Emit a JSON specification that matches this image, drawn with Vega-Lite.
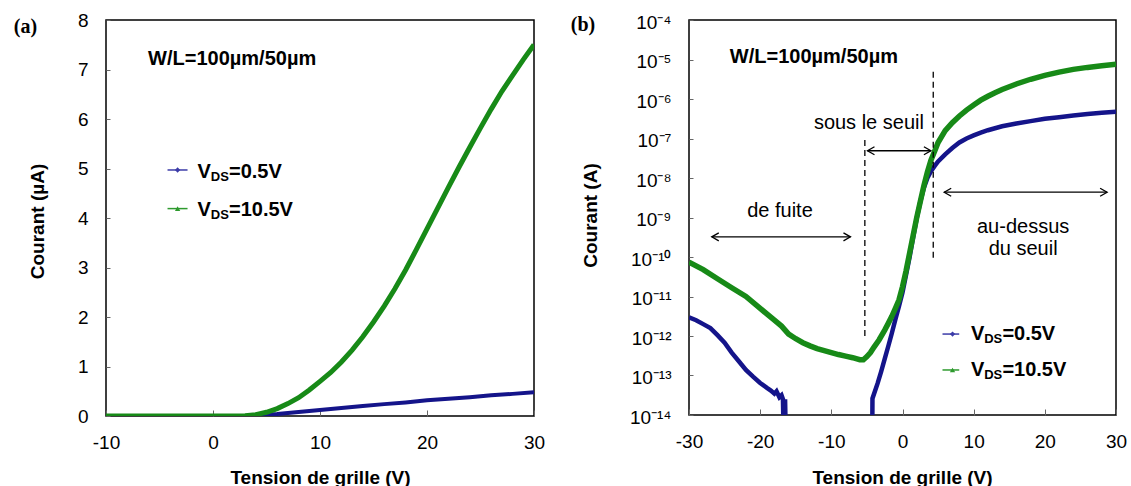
{
  "$schema": "https://vega.github.io/schema/vega-lite/v6.json",
  "background": "white",
  "padding": {"left": 13, "top": 10, "right": 0, "bottom": 0},
  "spacing": 155,
  "bounds": "flush",
  "config": {
    "font": "Liberation Sans",
    "view": {"stroke": "black", "strokeWidth": 1.5},
    "axis": {
      "grid": false, "domain": false, "tickColor": "#666", "tickWidth": 1,
      "labelFont": "Liberation Sans", "labelFontSize": 19, "labelColor": "black",
      "titleFont": "Liberation Sans", "titleFontSize": 19, "titleFontWeight": "bold", "titleColor": "black",
      "labelOverlap": false
    }
  },
  "datasets": {
    "a_blue": [
      {"s": "0.5", "vg": -10, "i": 0}, {"s": "0.5", "vg": -5, "i": 0}, {"s": "0.5", "vg": 0, "i": 0},
      {"s": "0.5", "vg": 3, "i": 0.002}, {"s": "0.5", "vg": 4, "i": 0.015}, {"s": "0.5", "vg": 5, "i": 0.026},
      {"s": "0.5", "vg": 6, "i": 0.04}, {"s": "0.5", "vg": 8, "i": 0.08}, {"s": "0.5", "vg": 10, "i": 0.12},
      {"s": "0.5", "vg": 12, "i": 0.16}, {"s": "0.5", "vg": 14, "i": 0.2}, {"s": "0.5", "vg": 16, "i": 0.24},
      {"s": "0.5", "vg": 18, "i": 0.275}, {"s": "0.5", "vg": 20, "i": 0.316}, {"s": "0.5", "vg": 22, "i": 0.347},
      {"s": "0.5", "vg": 24, "i": 0.38}, {"s": "0.5", "vg": 26, "i": 0.417}, {"s": "0.5", "vg": 28, "i": 0.447},
      {"s": "0.5", "vg": 30, "i": 0.479}
    ],
    "a_green": [
      {"s": "10.5", "vg": -10, "i": 0}, {"s": "10.5", "vg": -5, "i": 0}, {"s": "10.5", "vg": 0, "i": 0},
      {"s": "10.5", "vg": 2, "i": 0.001}, {"s": "10.5", "vg": 3, "i": 0.006}, {"s": "10.5", "vg": 4, "i": 0.028},
      {"s": "10.5", "vg": 5, "i": 0.075}, {"s": "10.5", "vg": 6, "i": 0.15}, {"s": "10.5", "vg": 7, "i": 0.25},
      {"s": "10.5", "vg": 8, "i": 0.37}, {"s": "10.5", "vg": 9, "i": 0.525}, {"s": "10.5", "vg": 10, "i": 0.7},
      {"s": "10.5", "vg": 11, "i": 0.88}, {"s": "10.5", "vg": 12, "i": 1.09}, {"s": "10.5", "vg": 13, "i": 1.33},
      {"s": "10.5", "vg": 14, "i": 1.6}, {"s": "10.5", "vg": 15, "i": 1.9}, {"s": "10.5", "vg": 16, "i": 2.22},
      {"s": "10.5", "vg": 17, "i": 2.57}, {"s": "10.5", "vg": 18, "i": 2.95}, {"s": "10.5", "vg": 19, "i": 3.36},
      {"s": "10.5", "vg": 20, "i": 3.78}, {"s": "10.5", "vg": 21, "i": 4.2}, {"s": "10.5", "vg": 22, "i": 4.62},
      {"s": "10.5", "vg": 23, "i": 5.03}, {"s": "10.5", "vg": 24, "i": 5.43}, {"s": "10.5", "vg": 25, "i": 5.82},
      {"s": "10.5", "vg": 26, "i": 6.2}, {"s": "10.5", "vg": 27, "i": 6.56}, {"s": "10.5", "vg": 28, "i": 6.88},
      {"s": "10.5", "vg": 29, "i": 7.2}, {"s": "10.5", "vg": 30, "i": 7.5}
    ],
    "a_legline": [
      {"s": "0.5", "vg": -4.25, "vg2": -2.38, "i": 4.97},
      {"s": "10.5", "vg": -4.25, "vg2": -2.38, "i": 4.19}
    ],
    "a_legmark": [
      {"s": "0.5", "vg": -3.31, "i": 4.97},
      {"s": "10.5", "vg": -3.31, "i": 4.19}
    ],
    "a_legtext": [
      {"s": "0.5", "vg": -1.45, "i": 4.93, "t": "=0.5V"},
      {"s": "10.5", "vg": -1.45, "i": 4.17, "t": "=10.5V"}
    ],
    "a_note": [
      {"vg": 1.79, "i": 7.22, "t": "W/L=100µm/50µm"}
    ],
    "a_tag": [
      {"vg": -17.53, "i": 7.86, "t": "(a)"}
    ],
    "b_blue": [
      {"seg": 1, "vg": -30, "i": 2.95e-12}, {"seg": 1, "vg": -29, "i": 2.51e-12}, {"seg": 1, "vg": -28, "i": 2.0e-12},
      {"seg": 1, "vg": -27, "i": 1.58e-12}, {"seg": 1, "vg": -26, "i": 1.05e-12}, {"seg": 1, "vg": -25, "i": 6.76e-13},
      {"seg": 1, "vg": -24, "i": 3.8e-13}, {"seg": 1, "vg": -23, "i": 2.29e-13}, {"seg": 1, "vg": -22, "i": 1.38e-13},
      {"seg": 1, "vg": -21, "i": 9.33e-14}, {"seg": 1, "vg": -20, "i": 6.46e-14}, {"seg": 1, "vg": -19, "i": 4.79e-14},
      {"seg": 1, "vg": -18.5, "i": 4.17e-14}, {"seg": 1, "vg": -18, "i": 3.47e-14}, {"seg": 1, "vg": -17.7, "i": 3.98e-14},
      {"seg": 1, "vg": -17.3, "i": 2.82e-14}, {"seg": 1, "vg": -17.0, "i": 3.16e-14}, {"seg": 1, "vg": -16.8, "i": 2.51e-14},
      {"seg": 1, "vg": -16.7, "i": 3e-15}, {"seg": 1, "vg": -16.5, "i": 2.51e-14}, {"seg": 1, "vg": -16.4, "i": 3e-15},
      {"seg": 2, "vg": -4.25, "i": 3e-15}, {"seg": 2, "vg": -4.22, "i": 2.63e-14}, {"seg": 2, "vg": -3.5, "i": 6.31e-14},
      {"seg": 2, "vg": -3.0, "i": 1.26e-13}, {"seg": 2, "vg": -2.5, "i": 2.63e-13}, {"seg": 2, "vg": -2.0, "i": 5.5e-13},
      {"seg": 2, "vg": -1.5, "i": 1.175e-12}, {"seg": 2, "vg": -1.0, "i": 2.63e-12}, {"seg": 2, "vg": -0.5, "i": 5.62e-12},
      {"seg": 2, "vg": 0, "i": 1.26e-11}, {"seg": 2, "vg": 0.5, "i": 3.55e-11}, {"seg": 2, "vg": 1.0, "i": 1.0e-10},
      {"seg": 2, "vg": 1.5, "i": 3.16e-10}, {"seg": 2, "vg": 2.0, "i": 9.55e-10}, {"seg": 2, "vg": 2.5, "i": 2.51e-9},
      {"seg": 2, "vg": 3.0, "i": 5.62e-9}, {"seg": 2, "vg": 3.5, "i": 1.0e-8}, {"seg": 2, "vg": 4.0, "i": 1.48e-8},
      {"seg": 2, "vg": 4.5, "i": 2.0e-8}, {"seg": 2, "vg": 5, "i": 2.63e-8}, {"seg": 2, "vg": 6, "i": 3.98e-8},
      {"seg": 2, "vg": 7, "i": 5.75e-8}, {"seg": 2, "vg": 8, "i": 7.94e-8}, {"seg": 2, "vg": 9, "i": 1.0e-7},
      {"seg": 2, "vg": 10, "i": 1.2e-7}, {"seg": 2, "vg": 11, "i": 1.41e-7}, {"seg": 2, "vg": 12, "i": 1.62e-7},
      {"seg": 2, "vg": 13, "i": 1.82e-7}, {"seg": 2, "vg": 14, "i": 2.04e-7}, {"seg": 2, "vg": 16, "i": 2.4e-7},
      {"seg": 2, "vg": 18, "i": 2.75e-7}, {"seg": 2, "vg": 20, "i": 3.16e-7}, {"seg": 2, "vg": 22, "i": 3.47e-7},
      {"seg": 2, "vg": 24, "i": 3.8e-7}, {"seg": 2, "vg": 26, "i": 4.17e-7}, {"seg": 2, "vg": 28, "i": 4.47e-7},
      {"seg": 2, "vg": 30, "i": 4.79e-7}
    ],
    "b_green": [
      {"vg": -30, "i": 7.41e-11}, {"vg": -28, "i": 4.79e-11}, {"vg": -26, "i": 2.82e-11}, {"vg": -24, "i": 1.66e-11},
      {"vg": -22, "i": 1.0e-11}, {"vg": -20, "i": 5.01e-12}, {"vg": -18, "i": 2.51e-12}, {"vg": -17, "i": 1.78e-12},
      {"vg": -16, "i": 1.12e-12}, {"vg": -15, "i": 8.51e-13}, {"vg": -14, "i": 6.76e-13}, {"vg": -13, "i": 5.62e-13},
      {"vg": -12, "i": 4.79e-13}, {"vg": -11, "i": 4.27e-13}, {"vg": -10, "i": 3.8e-13}, {"vg": -9, "i": 3.39e-13},
      {"vg": -8, "i": 3.09e-13}, {"vg": -7, "i": 2.82e-13}, {"vg": -6, "i": 2.51e-13}, {"vg": -5.5, "i": 2.51e-13},
      {"vg": -5, "i": 3.02e-13}, {"vg": -4.5, "i": 3.8e-13}, {"vg": -4, "i": 5.25e-13}, {"vg": -3.3, "i": 7.94e-13},
      {"vg": -2.5, "i": 1.41e-12}, {"vg": -2, "i": 2.09e-12}, {"vg": -1.5, "i": 3.16e-12}, {"vg": -1, "i": 5.01e-12},
      {"vg": -0.5, "i": 8.13e-12}, {"vg": 0, "i": 1.78e-11}, {"vg": 0.5, "i": 4.47e-11}, {"vg": 1.0, "i": 1.26e-10},
      {"vg": 1.5, "i": 3.55e-10}, {"vg": 2.0, "i": 1.0e-9}, {"vg": 2.5, "i": 2.51e-9}, {"vg": 3.0, "i": 6.31e-9},
      {"vg": 3.5, "i": 1.41e-8}, {"vg": 4.0, "i": 2.82e-8}, {"vg": 4.5, "i": 4.68e-8}, {"vg": 5, "i": 7.94e-8},
      {"vg": 6, "i": 1.58e-7}, {"vg": 7, "i": 2.51e-7}, {"vg": 8, "i": 3.72e-7}, {"vg": 9, "i": 5.25e-7},
      {"vg": 10, "i": 7.08e-7}, {"vg": 11, "i": 9.33e-7}, {"vg": 12, "i": 1.175e-6}, {"vg": 13, "i": 1.445e-6},
      {"vg": 14, "i": 1.74e-6}, {"vg": 16, "i": 2.4e-6}, {"vg": 18, "i": 3.16e-6}, {"vg": 20, "i": 3.98e-6},
      {"vg": 22, "i": 4.79e-6}, {"vg": 24, "i": 5.62e-6}, {"vg": 26, "i": 6.31e-6}, {"vg": 28, "i": 6.92e-6},
      {"vg": 30, "i": 7.59e-6}
    ],
    "b_dash": [
      {"vg": -5.29, "i": 9.1e-8, "i2": 8.7e-13},
      {"vg": 4.32, "i": 4.9e-6, "i2": 7.6e-11}
    ],
    "b_arrow": [
      {"vg": -26.8, "vg2": -7.31, "i": 3.24e-10},
      {"vg": -4.92, "vg2": 3.99, "i": 4.9e-8},
      {"vg": 5.86, "vg2": 28.75, "i": 4.37e-9}
    ],
    "b_headL": [
      {"vg": -26.8, "i": 3.24e-10}, {"vg": -4.92, "i": 4.9e-8}, {"vg": 5.86, "i": 4.37e-9}
    ],
    "b_headR": [
      {"vg": -7.31, "i": 3.24e-10}, {"vg": 3.99, "i": 4.9e-8}, {"vg": 28.75, "i": 4.37e-9}
    ],
    "b_note": [
      {"vg": -17.22, "i": 1.5e-9, "t": "de fuite"},
      {"vg": -4.72, "i": 2.48e-7, "t": "sous le seuil"},
      {"vg": 16.95, "i": 5.78e-10, "t": "au-dessus"},
      {"vg": 16.95, "i": 1.55e-10, "t": "du seuil"}
    ],
    "b_bold": [
      {"vg": -12.45, "i": 1.14e-5, "t": "W/L=100µm/50µm"}
    ],
    "b_tag": [
      {"vg": -44.9, "i": 7.26e-5, "t": "(b)"}
    ],
    "b_legline": [
      {"s": "0.5", "vg": 5.62, "vg2": 7.97, "i": 1.12e-12},
      {"s": "10.5", "vg": 5.62, "vg2": 7.97, "i": 1.38e-13}
    ],
    "b_legmark": [
      {"s": "0.5", "vg": 7.03, "i": 1.12e-12},
      {"s": "10.5", "vg": 7.03, "i": 1.38e-13}
    ],
    "b_legtext": [
      {"s": "0.5", "vg": 9.61, "i": 1.15e-12, "t": "=0.5V"},
      {"s": "10.5", "vg": 9.61, "i": 1.35e-13, "t": "=10.5V"}
    ]
  },
  "hconcat": [
    {
      "width": 428,
      "height": 396,
      "encoding": {
        "x": {
          "field": "vg", "type": "quantitative",
          "scale": {"domain": [-10, 30], "nice": false, "zero": false},
          "axis": {
            "values": [-10, 0, 10, 20, 30], "title": "Tension de grille (V)",
            "labelExpr": "'' + datum.value",
            "tickSize": -6, "labelPadding": 23, "labelFlush": false,
            "titleX": 214, "titleY": 67, "titleBaseline": "alphabetic", "titleAlign": "center"
          }
        },
        "y": {
          "field": "i", "type": "quantitative",
          "scale": {"domain": [0, 8], "nice": false, "zero": false},
          "axis": {
            "values": [0, 1, 2, 3, 4, 5, 6, 7, 8], "title": "Courant (µA)",
            "tickSize": -4, "labelPadding": 22,
            "titleX": -69, "titleY": 201, "titleBaseline": "middle", "titleAlign": "center", "titleAngle": -90
          }
        }
      },
      "layer": [
        {
          "data": {"name": "a_blue"},
          "mark": {"type": "line", "color": "#14148a", "strokeWidth": 4, "clip": true}
        },
        {
          "data": {"name": "a_green"},
          "mark": {"type": "line", "color": "#178a17", "strokeWidth": 5, "clip": true}
        },
        {
          "data": {"name": "a_legline"},
          "mark": {"type": "rule", "strokeWidth": 1.5},
          "encoding": {
            "x2": {"field": "vg2"},
            "color": {"field": "s", "type": "nominal", "scale": {"domain": ["0.5", "10.5"], "range": ["#3c3ca8", "#2e9a2e"]}, "legend": null}
          }
        },
        {
          "data": {"name": "a_legmark"},
          "mark": {"type": "point", "filled": true, "size": 28, "opacity": 1},
          "encoding": {
            "color": {"field": "s", "type": "nominal", "scale": {"domain": ["0.5", "10.5"], "range": ["#14148a", "#178a17"]}, "legend": null},
            "shape": {"field": "s", "type": "nominal", "scale": {"domain": ["0.5", "10.5"], "range": ["diamond", "triangle-up"]}, "legend": null}
          }
        },
        {
          "data": {"name": "a_legtext"},
          "mark": {"type": "text", "text": "V", "align": "left", "baseline": "middle", "fontSize": 20, "fontWeight": "bold", "color": "black"}
        },
        {
          "data": {"name": "a_legtext"},
          "mark": {"type": "text", "text": "DS", "align": "left", "baseline": "middle", "fontSize": 13, "fontWeight": "bold", "color": "black", "dx": 13.3, "dy": 5}
        },
        {
          "data": {"name": "a_legtext"},
          "mark": {"type": "text", "align": "left", "baseline": "middle", "fontSize": 20, "fontWeight": "bold", "color": "black", "dx": 31.5},
          "encoding": {"text": {"field": "t"}}
        },
        {
          "data": {"name": "a_note"},
          "mark": {"type": "text", "align": "center", "baseline": "middle", "fontSize": 20, "fontWeight": "bold", "color": "black"},
          "encoding": {"text": {"field": "t"}}
        },
        {
          "data": {"name": "a_tag"},
          "mark": {"type": "text", "align": "center", "baseline": "middle", "fontSize": 20, "fontWeight": "bold", "font": "Liberation Serif", "color": "black"},
          "encoding": {"text": {"field": "t"}}
        }
      ]
    },
    {
      "width": 427,
      "height": 395,
      "encoding": {
        "x": {
          "field": "vg", "type": "quantitative",
          "scale": {"domain": [-30, 30], "nice": false, "zero": false},
          "axis": {
            "values": [-30, -20, -10, 0, 10, 20, 30], "title": "Tension de grille (V)",
            "labelExpr": "'' + datum.value",
            "tickSize": -6, "labelPadding": 23, "labelFlush": false,
            "titleX": 213, "titleY": 68, "titleBaseline": "alphabetic", "titleAlign": "center"
          }
        },
        "y": {
          "field": "i", "type": "quantitative",
          "scale": {"type": "log", "domain": [1e-14, 1e-4], "nice": false},
          "axis": {
            "values": [1e-14, 1e-13, 1e-12, 1e-11, 1e-10, 1e-9, 1e-8, 1e-7, 1e-6, 1e-5, 1e-4],
            "labelExpr": "'10' + ['⁻⁴','⁻⁵','⁻⁶','⁻⁷','⁻⁸','⁻⁹','⁻¹⁰','⁻¹¹','⁻¹²','⁻¹³','⁻¹⁴'][round(-log(datum.value)/LN10) - 4]",
            "title": "Courant (A)",
            "tickSize": -4, "labelPadding": 22, "labelOffset": 2,
            "titleX": -99, "titleY": 195, "titleBaseline": "middle", "titleAlign": "center", "titleAngle": -90
          }
        }
      },
      "layer": [
        {
          "data": {"name": "b_blue"},
          "mark": {"type": "line", "color": "#14148a", "strokeWidth": 4.5, "clip": true},
          "encoding": {"detail": {"field": "seg", "type": "nominal"}}
        },
        {
          "data": {"name": "b_green"},
          "mark": {"type": "line", "color": "#178a17", "strokeWidth": 5.5, "clip": true}
        },
        {
          "data": {"name": "b_dash"},
          "mark": {"type": "rule", "color": "black", "strokeWidth": 1.3, "strokeDash": [6, 4]},
          "encoding": {"y2": {"field": "i2"}}
        },
        {
          "data": {"name": "b_arrow"},
          "mark": {"type": "rule", "color": "black", "strokeWidth": 1.3},
          "encoding": {"x2": {"field": "vg2"}}
        },
        {
          "data": {"name": "b_headL"},
          "mark": {"type": "point", "shape": "M1.4,-0.8L0,0L1.4,0.8", "filled": false, "color": "black", "strokeWidth": 1.3, "size": 100, "opacity": 1}
        },
        {
          "data": {"name": "b_headR"},
          "mark": {"type": "point", "shape": "M-1.4,-0.8L0,0L-1.4,0.8", "filled": false, "color": "black", "strokeWidth": 1.3, "size": 100, "opacity": 1}
        },
        {
          "data": {"name": "b_note"},
          "mark": {"type": "text", "align": "center", "baseline": "middle", "fontSize": 20, "color": "black"},
          "encoding": {"text": {"field": "t"}}
        },
        {
          "data": {"name": "b_bold"},
          "mark": {"type": "text", "align": "center", "baseline": "middle", "fontSize": 20, "fontWeight": "bold", "color": "black"},
          "encoding": {"text": {"field": "t"}}
        },
        {
          "data": {"name": "b_tag"},
          "mark": {"type": "text", "align": "center", "baseline": "middle", "fontSize": 20, "fontWeight": "bold", "font": "Liberation Serif", "color": "black"},
          "encoding": {"text": {"field": "t"}}
        },
        {
          "data": {"name": "b_legline"},
          "mark": {"type": "rule", "strokeWidth": 1.5},
          "encoding": {
            "x2": {"field": "vg2"},
            "color": {"field": "s", "type": "nominal", "scale": {"domain": ["0.5", "10.5"], "range": ["#3c3ca8", "#2e9a2e"]}, "legend": null}
          }
        },
        {
          "data": {"name": "b_legmark"},
          "mark": {"type": "point", "filled": true, "size": 28, "opacity": 1},
          "encoding": {
            "color": {"field": "s", "type": "nominal", "scale": {"domain": ["0.5", "10.5"], "range": ["#14148a", "#178a17"]}, "legend": null},
            "shape": {"field": "s", "type": "nominal", "scale": {"domain": ["0.5", "10.5"], "range": ["diamond", "triangle-up"]}, "legend": null}
          }
        },
        {
          "data": {"name": "b_legtext"},
          "mark": {"type": "text", "text": "V", "align": "left", "baseline": "middle", "fontSize": 20, "fontWeight": "bold", "color": "black"}
        },
        {
          "data": {"name": "b_legtext"},
          "mark": {"type": "text", "text": "DS", "align": "left", "baseline": "middle", "fontSize": 13, "fontWeight": "bold", "color": "black", "dx": 13.3, "dy": 5}
        },
        {
          "data": {"name": "b_legtext"},
          "mark": {"type": "text", "align": "left", "baseline": "middle", "fontSize": 20, "fontWeight": "bold", "color": "black", "dx": 31.5},
          "encoding": {"text": {"field": "t"}}
        }
      ]
    }
  ]
}
